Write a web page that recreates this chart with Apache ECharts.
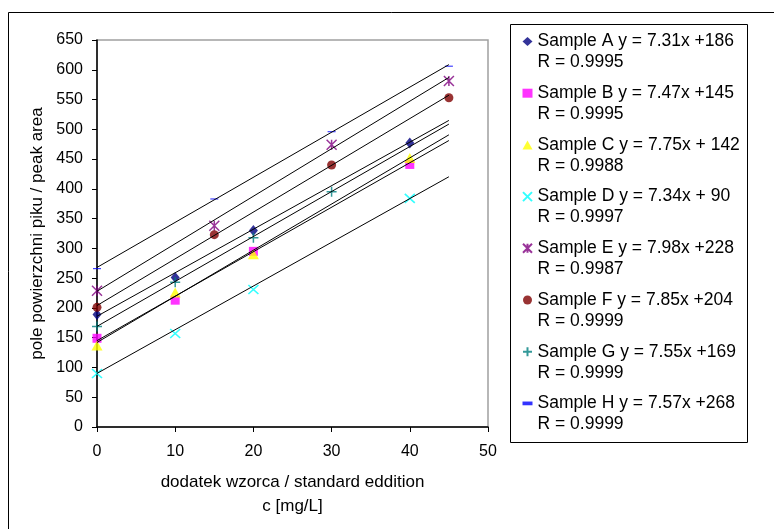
<!DOCTYPE html>
<html>
<head>
<meta charset="utf-8">
<script src="https://cdn.jsdelivr.net/npm/echarts@6.0.0/dist/echarts.min.js"></script>
<style>
  html, body { margin: 0; padding: 0; background: #fff; }
  #chart { width: 774px; height: 529px; }
</style>
</head>
<body>
<div id="chart"></div>
<script>
// sample names and measured points
const samples = ['Sample A', 'Sample B', 'Sample C', 'Sample D', 'Sample E', 'Sample F', 'Sample G', 'Sample H'];
const xA = [0, 10, 20, 40], yA = [189, 251, 330, 477];
const xB = [0, 10, 20, 40], yB = [149, 213, 295, 441];
const xC = [0, 10, 20, 40], yC = [137, 226, 290, 452];
const xD = [0, 10, 20, 40], yD = [90, 157, 231, 384];
const xE = [0, 15, 30, 45], yE = [229, 338, 474, 581];
const xF = [0, 15, 30, 45], yF = [201, 323, 440, 553];
const xG = [0, 10, 20, 30], yG = [169, 243, 318, 395];
const xH = [0, 15, 30, 45], yH = [266, 383, 496, 606];

// trend lines (from the legend equations)
const slopes = [7.31, 7.47, 7.75, 7.34, 7.98, 7.85, 7.55, 7.57];
const intercepts = [186, 145, 142, 90, 228, 204, 169, 268];
const equations = ['y = 7.31x +186', 'y = 7.47x +145', 'y = 7.75x + 142', 'y = 7.34x + 90',
  'y = 7.98x +228', 'y = 7.85x +204', 'y = 7.55x +169', 'y = 7.57x +268'];
const rValues = ['0.9995', '0.9995', '0.9988', '0.9997', '0.9987', '0.9999', '0.9999', '0.9999'];
const trendStart = 0, trendEnd = 45;

const xsAll = [xA, xB, xC, xD, xE, xF, xG, xH];
const ysAll = [yA, yB, yC, yD, yE, yF, yG, yH];

const FONT = '"Liberation Sans", Arial, sans-serif';

const markers = [
  { symbol: 'diamond', size: [9, 11], style: { color: '#000080' } },
  { symbol: 'rect', size: [9, 9], style: { color: '#FF00FF' } },
  { symbol: 'triangle', size: [11, 10], style: { color: '#FFFF00' } },
  { symbol: 'path://M0,0L10,10M10,0L0,10', size: [10, 9], style: { color: 'rgba(0,0,0,0)', borderColor: '#00FFFF', borderWidth: 1.5 } },
  { symbol: 'path://M0,0L10,10M10,0L0,10M5,0L5,10', size: [10, 10], style: { color: 'rgba(0,0,0,0)', borderColor: '#800080', borderWidth: 1.5 } },
  { symbol: 'circle', size: 9, style: { color: '#800000' } },
  { symbol: 'path://M5,0L5,10M0,5L10,5', size: [10, 10], style: { color: 'rgba(0,0,0,0)', borderColor: '#008080', borderWidth: 1.5 } },
  { symbol: 'path://M0,0H8V3H0Z', size: [8, 3], style: { color: '#0000FF' } }
];

const series = [];
samples.forEach((name, i) => {
  series.push({
    name: name,
    type: 'scatter',
    symbol: markers[i].symbol,
    symbolSize: markers[i].size,
    symbolKeepAspect: true,
    itemStyle: markers[i].style,
    data: xsAll[i].map((x, j) => [x, ysAll[i][j]]),
    z: 3
  });
});
samples.forEach((name, i) => {
  series.push({
    name: name + ' trend',
    type: 'line',
    showSymbol: false,
    silent: true,
    lineStyle: { color: '#000', width: 1 },
    data: [trendStart, trendEnd].map(x => [x, slopes[i] * x + intercepts[i]]),
    z: 4
  });
});

const chart = echarts.init(document.getElementById('chart'), null, { renderer: 'canvas' });
chart.setOption({
  animation: false,
  backgroundColor: '#fff',
  graphic: [
    { type: 'rect', shape: { x: 8.5, y: 12.5, width: 790, height: 540 },
      style: { fill: 'none', stroke: '#000', lineWidth: 1 }, silent: true },
    { type: 'rect', shape: { x: 510.5, y: 24.5, width: 237, height: 418 },
      style: { fill: '#fff', stroke: '#000', lineWidth: 1 }, silent: true, z: -1 }
  ],
  grid: {
    left: 97, top: 40, right: 286, bottom: 102,
    show: true, borderColor: '#a0a0a0', borderWidth: 1.5, backgroundColor: '#fff'
  },
  legend: {
    orient: 'vertical',
    left: 522, top: 10,
    padding: 0,
    itemGap: -11.3,
    itemWidth: 10, itemHeight: 9,
    data: samples,
    // blank first line keeps the icon level with the sample line
    formatter: name => {
      const i = samples.indexOf(name);
      return ' \n' + name + ' ' + equations[i] + '\nR = ' + rValues[i];
    },
    textStyle: { fontSize: 17.5, lineHeight: 21, color: '#000', fontFamily: FONT }
  },
  xAxis: {
    type: 'value', min: 0, max: 50, interval: 10,
    name: 'dodatek wzorca / standard eddition\nc [mg/L]',
    nameLocation: 'middle', nameGap: 43,
    nameTextStyle: { fontSize: 17, lineHeight: 24, color: '#000', fontFamily: FONT },
    axisLine: { lineStyle: { color: '#000', width: 1.5 } },
    axisTick: { length: 5, lineStyle: { color: '#000', width: 1 } },
    axisLabel: { fontSize: 16, margin: 17, color: '#000', fontFamily: FONT },
    splitLine: { show: false }
  },
  yAxis: {
    type: 'value', min: 0, max: 650, interval: 50,
    name: 'pole powierzchni piku / peak area',
    nameLocation: 'middle', nameGap: 50,
    nameTextStyle: { fontSize: 17, color: '#000', fontFamily: FONT },
    axisLine: { show: true, lineStyle: { color: '#000', width: 1.5 } },
    axisTick: { show: true, length: 5, lineStyle: { color: '#000', width: 1 } },
    axisLabel: { fontSize: 16, margin: 14, color: '#000', fontFamily: FONT },
    splitLine: { show: false }
  },
  series: series
});
</script>
</body>
</html>
